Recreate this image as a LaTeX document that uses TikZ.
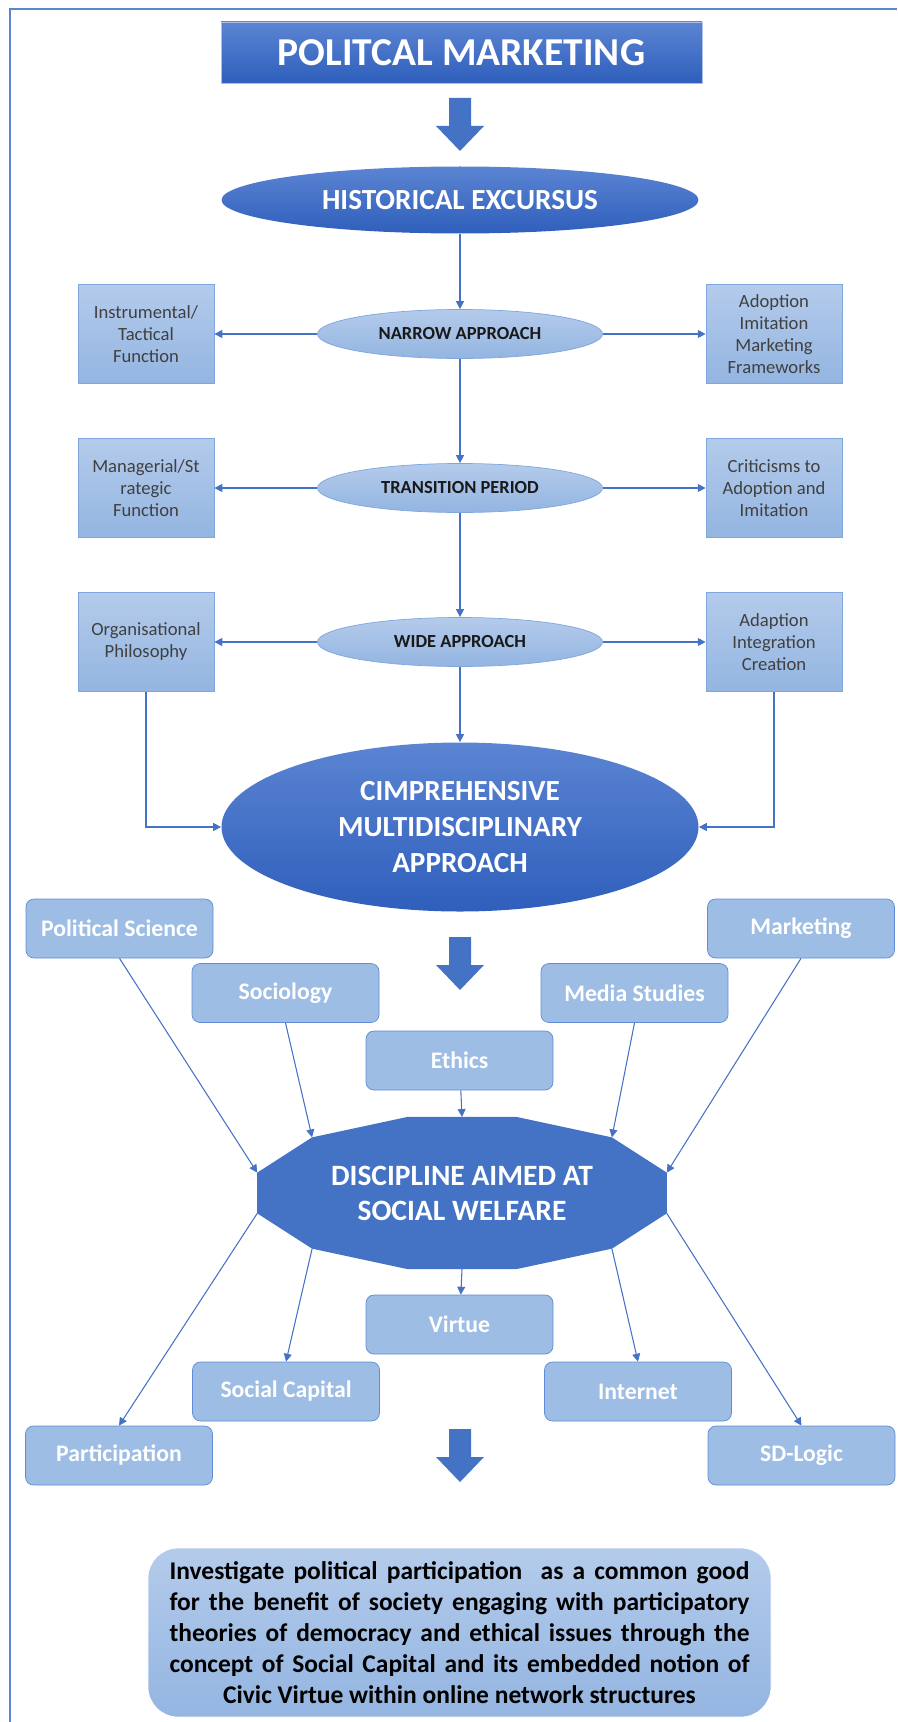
\documentclass[tikz,border=0pt]{standalone}
\usepackage{fontspec}
\setmainfont{Carlito}
\usetikzlibrary{arrows.meta,calc,shapes.geometric}

\definecolor{accent}{HTML}{4472C4}
\definecolor{accentlt}{HTML}{5B84D2}
\definecolor{accentdk}{HTML}{2F5FBC}
\definecolor{paletop}{HTML}{B4CBEB}
\definecolor{palebot}{HTML}{93B5E1}
\definecolor{paleedge}{HTML}{7FA6DD}
\definecolor{chipfill}{HTML}{9DBDE5}
\definecolor{chipedge}{HTML}{5F8CD6}
\definecolor{boxtext}{HTML}{404040}

\tikzset{
  downarrow/.pic={
    \fill[accent] (-0.22,0) -- (0.22,0) -- (0.22,-0.56) -- (0.48,-0.56)
      -- (0,-1.06) -- (-0.48,-0.56) -- (-0.22,-0.56) -- cycle;
  }
}

\begin{document}
\begin{tikzpicture}[
      every node/.style={font=\small},
      head/.style={draw=accentlt!50, top color=accentlt, bottom color=accentdk, text=white,
        minimum width=9.62cm, minimum height=1.22cm, font=\fontsize{22.5}{27}\selectfont\bfseries},
      bigoval/.style={ellipse, top color=accentlt, bottom color=accentdk, text=white,
        align=center, inner sep=0pt, font=\fontsize{16.6}{20.5}\selectfont\bfseries},
      phase/.style={ellipse, draw=paleedge, top color=paletop, bottom color=palebot,
        minimum width=5.7cm, minimum height=0.98cm, inner sep=0pt, text=black!90,
        font=\fontsize{10.5}{12}\selectfont\bfseries},
      side/.style={draw=paleedge, top color=paletop, bottom color=palebot, align=center,
        minimum width=2.72cm, minimum height=1.98cm, inner sep=2pt, text=boxtext,
        font=\fontsize{10.6}{12.5}\selectfont},
      chip/.style={draw=chipedge, fill=chipfill, rounded corners=0.16cm, text=white,
        minimum width=3.74cm, minimum height=1.18cm, font=\fontsize{13.5}{16}\selectfont\bfseries},
      goal/.style={draw=white, top color=paletop, bottom color=palebot, rounded corners=0.6cm,
        minimum width=12.46cm, minimum height=3.38cm, align=center, inner sep=0pt,
        font=\fontsize{14.5}{17.6}\selectfont\bfseries},
      link/.style={draw=accent, line width=0.6pt, -{Triangle[length=4.5pt,width=4.5pt]}},
    ]
    \useasboundingbox (0,0) rectangle (17.94,-34.44);
    \draw[accentlt, line width=1.2pt] (0.2,-34.44) -- (0.2,-0.18) -- (17.94,-0.18);

    \node[head] (title) at (9.23,-1.05) {POLITCAL MARKETING};
    \pic at (9.2,-1.96) {downarrow};
    \node[bigoval, minimum width=9.54cm, minimum height=1.34cm] (hist) at (9.2,-4.0) {HISTORICAL EXCURSUS};

    \node[phase] (narrow) at (9.2,-6.68)  {NARROW APPROACH};
    \node[phase] (trans)  at (9.2,-9.76)  {TRANSITION PERIOD};
    \node[phase] (wide)   at (9.2,-12.84) {WIDE APPROACH};

    \node[side] (instr) at (2.92,-6.68)   {Instrumental/\\Tactical\\Function};
    \node[side] (manag) at (2.92,-9.76)   {Managerial/St\\rategic\\Function};
    \node[side] (organ) at (2.92,-12.84)  {Organisational\\Philosophy};
    \node[side] (adopt) at (15.48,-6.68)  {Adoption\\Imitation\\Marketing\\Frameworks};
    \node[side] (critic) at (15.48,-9.76) {Criticisms to\\Adoption and\\Imitation};
    \node[side] (adapt) at (15.48,-12.84) {Adaption\\Integration\\Creation};

    \node[bigoval, minimum width=9.54cm, minimum height=3.38cm] (comp) at (9.2,-16.54)
      {CIMPREHENSIVE\\MULTIDISCIPLINARY\\APPROACH};

    \draw[link] (hist) -- (narrow);
    \draw[link] (narrow) -- (trans);
    \draw[link] (trans) -- (wide);
    \draw[link] (wide) -- (comp);
    \foreach \a/\b in {narrow/instr, trans/manag, wide/organ, narrow/adopt, trans/critic, wide/adapt}
      \draw[link] (\a) -- (\b);
    \draw[link] (organ.south) |- (comp.west);
    \draw[link] (adapt.south) |- (comp.east);

    \node[chip] (polsci) at (2.39,-18.57)  {Political Science};
    \node[chip] (market) at (16.02,-18.57) {Marketing};
    \node[chip] (socio)  at (5.71,-19.86)  {Sociology};
    \node[chip] (media)  at (12.69,-19.86) {Media Studies};
    \node[chip] (ethics) at (9.19,-21.21)  {Ethics};
    \pic at (9.2,-18.74) {downarrow};

    \coordinate (dc) at (9.24,-23.86);
    \foreach \a in {15,45,...,345}
      \coordinate (dv\a) at ($(dc)+(\a:4.24cm and 1.574cm)$);
    \coordinate (dtop) at ($(dc)+(0,1.52)$);
    \coordinate (dbot) at ($(dc)+(0,-1.52)$);
    \fill[accent] (dv15) \foreach \a in {45,75,...,345} {-- (dv\a)} -- cycle;
    \node[align=center, text=white, font=\fontsize{16.8}{20}\selectfont\bfseries] (disc) at (dc)
      {DISCIPLINE AIMED AT\\SOCIAL WELFARE};

    \node[chip] (virtue) at (9.19,-26.49)  {Virtue};
    \node[chip] (socap)  at (5.72,-27.83)  {Social Capital};
    \node[chip] (inet)   at (12.76,-27.83) {Internet};
    \node[chip] (part)   at (2.38,-29.11)  {Participation};
    \node[chip] (sdl)    at (16.03,-29.11) {SD-Logic};
    \pic at (9.2,-28.58) {downarrow};

    \draw[link] (ethics) -- (dtop);
    \draw[link] (dbot) -- (virtue);
    \foreach \src/\dst in {polsci/165, socio/135, media/45, market/15}
      \draw[link] (\src.south) -- (dv\dst);
    \foreach \src/\dst in {195/part, 225/socap, 315/inet, 345/sdl}
      \draw[link] (dv\src) -- (\dst.north);

    \node[goal] (aim) at (9.19,-32.65) {%
      \makebox[11.6cm][s]{Investigate political participation \ as a common good}\\
      \makebox[11.6cm][s]{for the benefit of society engaging with participatory}\\
      \makebox[11.6cm][s]{theories of democracy and ethical issues through the}\\
      \makebox[11.6cm][s]{concept of Social Capital and its embedded notion of}\\
      Civic Virtue within online network structures};
  \end{tikzpicture}
\end{document}
